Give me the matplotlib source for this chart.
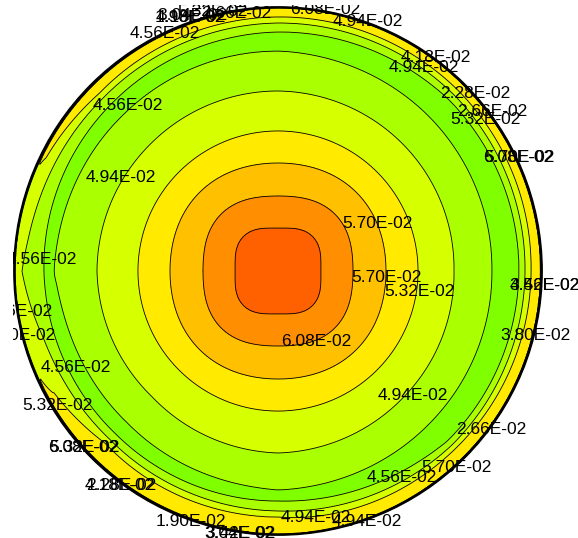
import numpy as np
import matplotlib.pyplot as plt

# contour levels (the labels show them as 6.08E-02 etc.)
levels = [0.0190, 0.0228, 0.0266, 0.0304, 0.0342, 0.0380, 0.0418,
          0.0456, 0.0494, 0.0532, 0.0570, 0.0608, 0.0646]
band_colors = ["#10FF00", "#20FF00", "#30FF00", "#40FF00", "#50FF00", "#60FF00", "#70FF00",
               "#80FF00", "#AAFF00", "#D6FF00", "#FFEA00", "#FFC000", "#FF8E00", "#FF6000"]

# radial profile: radius (px from the centre) -> value
r_inner = [0, 43, 75, 108, 140]
v_inner = [0.0675, 0.0646, 0.0608, 0.0570, 0.0532]
square_amt = [0.13, 0.13, 0.075, 0.03, 0.0]   # inner rings are rounded squares

# outer part of the profile, one radius list per direction (E, NE, N, NW, W, SW, S, SE)
v_outer = [0.0494, 0.0456, 0.0432, 0.0456, 0.0494, 0.0532, 0.0555, 0.0550, 0.0150]
r_e = [176, 214, 228, 241, 247, 253, 259, 262.5, 264]
r_ne = [178, 216, 229, 242, 249, 255, 260, 262.5, 264]
r_n = [180, 220, 230, 239, 248, 254, 260, 263, 264.5]
r_nw = [180, 220, 229, 236, 246, 252, 258, 262, 264]
r_w = [181, 224, 229, 234, 256, 261, 263, 264]
v_w = [0.0494, 0.0456, 0.0435, 0.0456, 0.0494, 0.0510, 0.0510, 0.0150]
r_sw = [178, 214, 222, 230, 238, 244, 255, 262, 264]
r_s = [182, 219, 225, 230, 240, 246, 256, 263, 264.5]
r_se = [178, 215, 228, 240, 246, 251, 258, 262.5, 264]

# contour labels as they appear on the chart
label_vals = [0.0456, 0.0190, 0.0304, 0.0418, 0.0532, 0.0266, 0.0608, 0.0494,
              0.0418, 0.0494, 0.0228, 0.0266, 0.0532, 0.0608, 0.0570,
              0.0456, 0.0494, 0.0570, 0.0456, 0.0570, 0.0532, 0.0342, 0.0456,
              0.0266, 0.0380, 0.0608, 0.0380, 0.0456, 0.0494, 0.0532, 0.0266,
              0.0608, 0.0532, 0.0570, 0.0456, 0.0418, 0.0228, 0.0190, 0.0304,
              0.0342, 0.0494, 0.0494]
label_spots = [(165, 33), (190, 17), (192, 16), (191, 18), (212, 12), (236, 13), (325, 10), (368, 22),
               (436, 58), (424, 68), (475, 93), (492, 112), (485, 119), (518, 158), (519, 158),
               (128, 105), (121, 177), (377, 223), (42, 259), (386, 277), (419, 292), (544, 285), (545, 285),
               (17, 311), (20, 336), (316, 342), (535, 336), (76, 368), (413, 395), (57, 405), (491, 430),
               (83, 448), (84, 448), (456, 467), (402, 478), (120, 485), (121, 485), (191, 521), (239, 533),
               (240, 534), (316, 517), (367, 521)]

cx, cy, rad = 278, 271, 264

xs = np.linspace(-266, 266, 801)
X, Y = np.meshgrid(xs, xs)
R = np.hypot(X, Y)
T = np.arctan2(Y, X)
R_eff = R * (1 - np.interp(R, r_inner, square_amt) * (1 - np.cos(4 * T)) / 2)

outer = [(r_e, v_outer), (r_ne, v_outer), (r_n, v_outer), (r_nw, v_outer),
         (r_w, v_w), (r_sw, v_outer), (r_s, v_outer), (r_se, v_outer)]
V = np.stack([np.interp(R_eff, r_inner + rr, v_inner + vv) for rr, vv in outer])

ang = np.degrees(T) % 360
k = (ang // 45).astype(int) % 8
f = (ang - 45 * k) / 45
Z = (1 - f) * np.take_along_axis(V, k[None], 0)[0] + f * np.take_along_axis(V, ((k + 1) % 8)[None], 0)[0]
Z = np.ma.masked_where(R > rad, Z)

fig = plt.figure(figsize=(5.78, 5.38), dpi=100)
ax = fig.add_axes([13 / 578, 0, 565 / 578, 533 / 538])
ax.contourf(X, Y, Z, levels=[0.0] + levels + [0.08], colors=band_colors)
ax.contour(X, Y, Z, levels=levels, colors="k", linewidths=0.6)
ax.add_patch(plt.Circle((0, 0), rad, fill=False, ec="k", lw=1.3))

for v, (px, py) in zip(label_vals, label_spots):
    ax.text(px - cx, cy - py, f"{v:.2E}", ha="center", va="center", fontsize=12.5,
            family="Liberation Sans", color="black", clip_on=True)

ax.set_xlim(-265, 300)
ax.set_ylim(-267, 266)
ax.set_aspect("equal")
ax.axis("off")

fig.savefig("out.png", dpi=100)
